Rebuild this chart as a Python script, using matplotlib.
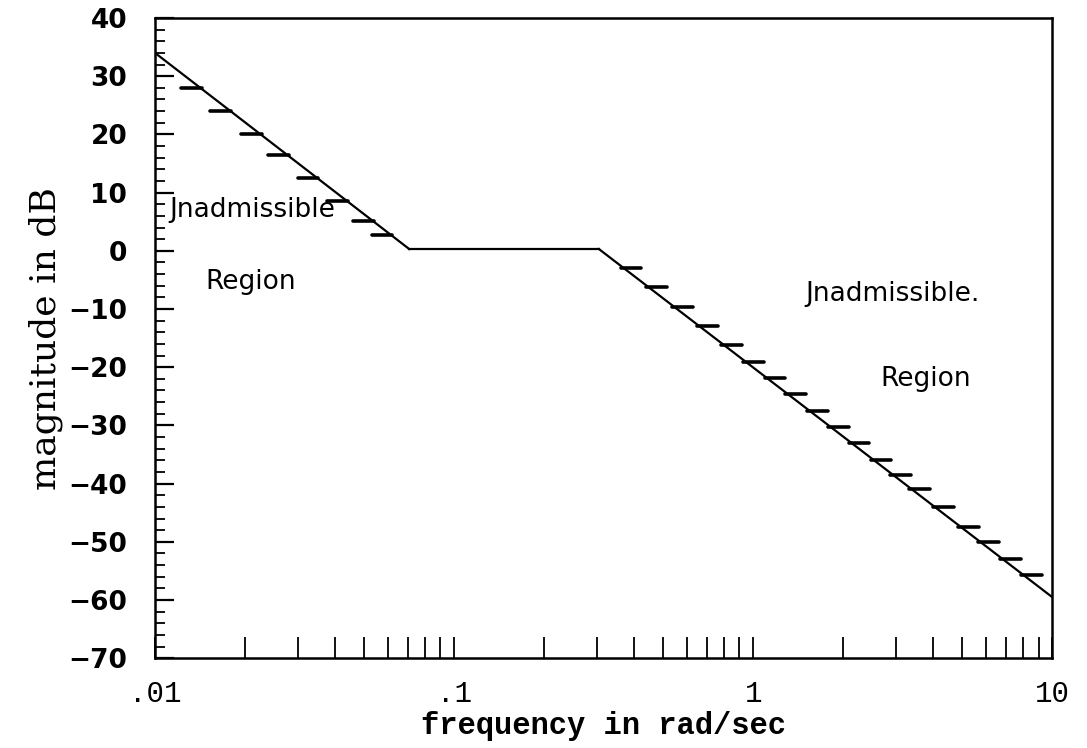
import numpy as np
import matplotlib.pyplot as plt
from matplotlib.ticker import FixedLocator, NullFormatter

# boundary of the admissible region (frequency in rad/sec, magnitude in dB)
left_freq = [0.01, 0.0708]
left_mag = [34.0, 0.3]
flat_freq = [0.0708, 0.305]
flat_mag = [0.3, 0.3]
right_freq = [0.305, 10.0]
right_mag = [0.3, -59.5]

# hatch marks (dB levels where the little dashes sit)
left_hatch = [28.0, 24.1, 20.0, 16.4, 12.5, 8.6, 5.1, 2.7]
right_hatch = [-2.9, -6.3, -9.7, -13.0, -16.2, -19.1, -21.9, -24.6, -27.5,
               -30.3, -33.0, -35.9, -38.5, -41.0, -44.1, -47.4, -50.1, -53.0, -55.7]

xticks = [0.01, 0.1, 1, 10]
xtick_labels = ['.01', '.1', '1', '10']
yticks = [40, 30, 20, 10, 0, -10, -20, -30, -40, -50, -60, -70]


def freq_at(mag, f, m):
    # position on a straight line in log-frequency
    lf = np.log10(f)
    return 10 ** np.interp(mag, [m[1], m[0]], [lf[1], lf[0]])


fig = plt.figure(figsize=(10.87, 7.48), dpi=100)
ax = fig.add_axes([0.1426, 0.12, 0.8254, 0.856])
ax.set_xscale('log')
ax.set_xlim(0.01, 10)
ax.set_ylim(-70, 40)

lw = 1.6
ax.plot(left_freq, left_mag, color='black', lw=lw)
ax.plot(flat_freq, flat_mag, color='black', lw=lw)
ax.plot(right_freq, right_mag, color='black', lw=lw)

# dashes: left line dashes go to the left, right line dashes go to the right
for m in left_hatch:
    f = freq_at(m, left_freq, left_mag)
    ax.plot([f * 0.86, f * 1.01], [m, m], color='black', lw=2.6, solid_capstyle='round')
for m in right_hatch:
    f = freq_at(m, right_freq, right_mag)
    ax.plot([f * 0.98, f * 1.15], [m, m], color='black', lw=2.6, solid_capstyle='round')

# handwritten notes
hand = dict(family='DejaVu Sans', fontsize=19, fontweight='normal', color='black')
ax.text(0.0112, 7, 'Jnadmissible', va='center', ha='left', **hand)
ax.text(0.0147, -5.3, 'Region', va='center', ha='left', **hand)
ax.text(1.49, -7.5, 'Jnadmissible.', va='center', ha='left', **hand)
ax.text(2.66, -22, 'Region', va='center', ha='left', **hand)

# ticks
ax.xaxis.set_major_locator(FixedLocator(xticks))
ax.set_xticklabels(xtick_labels, family='Liberation Mono', fontsize=21)
minor_x = [d * k for d in [0.01, 0.1, 1] for k in range(2, 10)]
ax.xaxis.set_minor_locator(FixedLocator(minor_x))
ax.xaxis.set_minor_formatter(NullFormatter())
ax.tick_params(axis='x', which='both', direction='in', length=15, width=1.3,
               top=False, pad=16)

ax.set_yticks(yticks)
ax.set_yticklabels([str(v).replace('-', '\u2212') for v in yticks],
                   family='DejaVu Sans', fontsize=19, fontweight='bold')
ax.yaxis.set_minor_locator(FixedLocator(np.arange(-70, 41, 2)))
ax.tick_params(axis='y', which='major', direction='in', length=14, width=1.6, right=False, pad=20)
ax.tick_params(axis='y', which='minor', direction='in', length=7, width=1.3, right=False)

for s in ax.spines.values():
    s.set_linewidth(1.8)

ax.set_xlabel('frequency in rad/sec', family='Liberation Mono', fontsize=22,
              fontweight='bold', labelpad=2)
ax.set_ylabel('magnitude in dB', family='DejaVu Serif', fontsize=26, labelpad=4)

fig.savefig('out.png', dpi=100)
